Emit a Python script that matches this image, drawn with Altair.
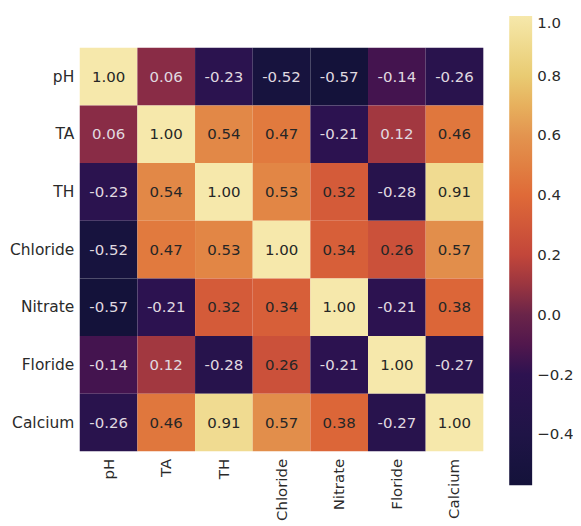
import altair as alt
import pandas as pd

labels = ["pH", "TA", "TH", "Chloride", "Nitrate", "Floride", "Calcium"]
matrix = [
    [1.00, 0.06, -0.23, -0.52, -0.57, -0.14, -0.26],
    [0.06, 1.00, 0.54, 0.47, -0.21, 0.12, 0.46],
    [-0.23, 0.54, 1.00, 0.53, 0.32, -0.28, 0.91],
    [-0.52, 0.47, 0.53, 1.00, 0.34, 0.26, 0.57],
    [-0.57, -0.21, 0.32, 0.34, 1.00, -0.21, 0.38],
    [-0.14, 0.12, -0.28, 0.26, -0.21, 1.00, -0.27],
    [-0.26, 0.46, 0.91, 0.57, 0.38, -0.27, 1.00],
]
cbar_ticks = [-0.4, -0.2, 0.0, 0.2, 0.4, 0.6, 0.8, 1.0]
color_stops = [-0.57, -0.4, -0.2, 0.0, 0.1, 0.2, 0.4, 0.6, 0.8, 1.0]
color_range = ["#14123a", "#1f1446", "#2d1250", "#6a2449", "#9a3540",
               "#c2463a", "#df6a38", "#e3944f", "#e9cb72", "#f6e8ab"]

rows = []
for i, r in enumerate(labels):
    for j, c in enumerate(labels):
        v = matrix[i][j]
        rows.append({"row": r, "col": c, "v": v, "lbl": f"{v:.2f}"})
df = pd.DataFrame(rows)

font = "DejaVu Sans"

base = alt.Chart(df).encode(
    x=alt.X("col:N", sort=labels, title=None,
            axis=alt.Axis(labelAngle=270, labelFontSize=15, labelColor="#2a2a2a",
                          ticks=False, domain=False, labelPadding=7, labelFont=font,
                          labelBaseline="middle", labelAlign="right")),
    y=alt.Y("row:N", sort=labels, title=None,
            axis=alt.Axis(labelFontSize=15.5, labelColor="#2a2a2a", ticks=False,
                          domain=False, labelPadding=6, labelFont=font)),
)

rect = base.mark_rect().encode(
    color=alt.Color("v:Q",
                    scale=alt.Scale(domain=color_stops, range=color_range),
                    legend=alt.Legend(title=None, orient="none", legendX=431, legendY=-32,
                                      gradientLength=471, gradientThickness=23,
                                      values=cbar_ticks, format=".1f",
                                      labelFontSize=15, labelColor="#2a2a2a",
                                      labelFont=font, labelOffset=5,
                                      gradientStrokeWidth=0, direction="vertical"))
)

text = base.mark_text(fontSize=15, font=font).encode(
    text=alt.Text("lbl:N"),
    color=alt.condition(alt.datum.v < 0.2, alt.value("#e0dae0"), alt.value("#262626")),
)

chart = (rect + text).properties(
    width=405, height=405,
    autosize=alt.AutoSizeParams(type="none"),
    padding={"left": 72, "top": 39, "right": 90, "bottom": 73},
).configure_view(strokeWidth=0).configure_scale(bandPaddingInner=0)

chart.save("out.html", embed_options={"renderer": "svg", "actions": False})
